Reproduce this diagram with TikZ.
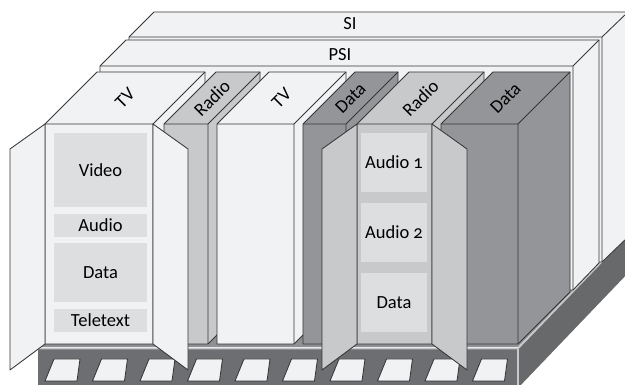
\documentclass[tikz,border=0pt]{standalone}
\usepackage{fontspec}
\setmainfont{Carlito}[Numbers=OldStyle]
\usetikzlibrary{positioning}
\definecolor{paper}{HTML}{F1F2F4}
\definecolor{radiogray}{HTML}{C8C9CB}
\definecolor{datagray}{HTML}{949598}
\definecolor{partgray}{HTML}{DDDEE0}
\definecolor{deck}{HTML}{6D6E71}
\definecolor{decktop}{HTML}{8F9093}
\definecolor{deckedge}{HTML}{C6C7C9}
\definecolor{ink}{HTML}{363636}

\newcommand\stream[5]{%
\filldraw[outline,fill=#3] (#1,124) -- (#1+52,72) -- (#2+52,72) -- (#2+52,292) -- (#2,344) -- (#1,344) -- cycle;
\draw[outline] (#1,124) -- (#2,124) -- (#2+52,72) (#2,124) -- (#2,344);
\node[toplabel] (#4) at ({(#1+#2)/2+26},98) {#5};}
\newcommand\lid[3]{%
\filldraw[outline,fill=#3] (#1,124) -- (#2,149) -- (#2,370) -- (#1,344) -- cycle;}

\begin{document}
\begin{tikzpicture}[x=1pt,y=-1pt,font=\fontsize{18.5pt}{21pt}\selectfont]
\tikzset{outline/.style={draw=ink,line width=0.85pt,line join=round}}
\tikzset{toplabel/.style={rotate=45,inner sep=0pt}}
\tikzset{part/.style={fill=partgray,inner sep=0pt,outer sep=0pt,minimum width=93pt}}
\useasboundingbox (0,0) rectangle (625,385);
\clip (0,0) rectangle (625,385);
% platform
\fill[decktop] (38,347) -- (518,347) -- (640,222) -- (160,222) -- cycle;
\fill[deck] (38,348) rectangle (518,388);
\fill[deck!95!black] (518,348.5) -- (630,232.5) -- (630,271) -- (518,388) -- cycle;
\draw[deckedge,line width=1.6pt] (38,348.5) -- (518,348.5) -- (630,232.5) (518,348.5) -- (518,388);
\foreach \k in {0,...,9}
  \filldraw[outline,fill=paper] ({45+47.5*\k},381) -- ++(9,-22) -- ++(26,0) -- ++(-3,22) -- cycle;
% SI and PSI
\filldraw[outline,fill=paper] (129,37) -- (154,12) -- (628,12) -- (628,237) -- (602,262) -- (129,262) -- cycle;
\draw[outline] (129,37) -- (602,37) -- (628,12) (602,37) -- (602,262);
\node (si) at (350,24) {SI};
\filldraw[outline,fill=paper] (100,66) -- (126,40) -- (599,40) -- (599,263) -- (573,290) -- (100,290) -- cycle;
\draw[outline] (100,66) -- (573,66) -- (599,40) (573,66) -- (573,290);
\node (psi) at (340,55) {PSI};
% services
\stream{45}{153}{paper}{tvA}{TV}
\stream{164}{208}{radiogray}{radioA}{Radio}
\stream{217}{294}{paper}{tvB}{TV}
\stream{303}{346}{datagray}{dataA}{Data}
\stream{357}{432}{radiogray}{radioB}{Radio}
\stream{441}{518}{datagray}{dataB}{Data}
% contents
\node[part,minimum height=74pt] (video) at (100.5,170) {Video};
\node[part,minimum height=23pt,below=7pt of video] (audio) {Audio};
\node[part,minimum height=59pt,below=6pt of audio] (data) {Data};
\node[part,minimum height=23pt,below=7pt of data] (teletext) {Teletext};
\node[part,minimum width=66pt,minimum height=59pt] (audioA) at (394,162.5) {Audio 1};
\node[part,minimum width=66pt,minimum height=59pt,below=11pt of audioA] (audioB) {Audio 2};
\node[part,minimum width=66pt,minimum height=59pt,below=11pt of audioB] (dataC) {Data};
% doors
\lid{45}{10}{paper}
\lid{153}{188}{paper}
\lid{357}{322}{radiogray}
\lid{432}{467}{radiogray}
\end{tikzpicture}
\end{document}
